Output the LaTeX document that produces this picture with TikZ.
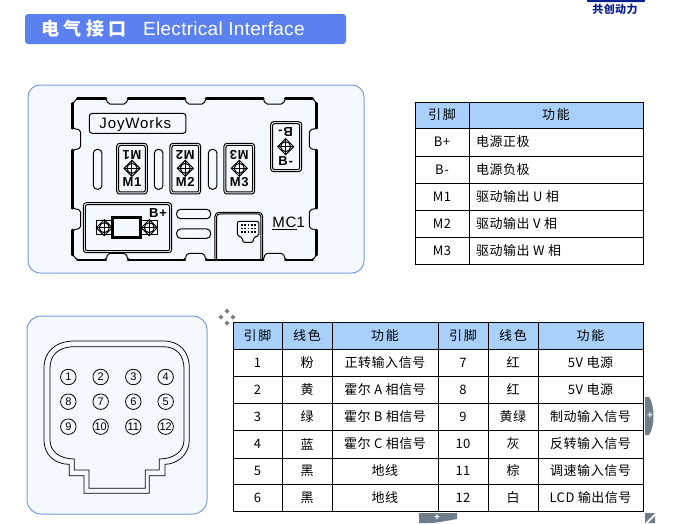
\documentclass[tikz,border=0pt]{standalone}
\usepackage{fontspec}
\setmainfont{Liberation Sans}
\newfontfamily\cjk[LetterSpace=4]{Noto Sans CJK SC}
\newfontfamily\boardfont[LetterSpace=6]{Liberation Sans}
\newfontfamily\headfont[LetterSpace=1.5]{Liberation Sans}
\definecolor{panelline}{HTML}{7C9CDC}
\definecolor{panelfill}{HTML}{F4F9FF}
\definecolor{headblue}{HTML}{5B80F0}
\definecolor{tablehead}{HTML}{A9D0FB}
\definecolor{handlegray}{HTML}{6F7C8A}
\definecolor{logoblue}{HTML}{0A1E8C}
\newcommand{\dblbox}[4]{
    \draw[thinline,rounded corners=3pt] (#1,#2) rectangle (#3,#4);
    \draw[thinline,rounded corners=2pt] (#1+6,#2+6) rectangle (#3-6,#4-6);
}
\newcommand{\target}[2]{
    \draw[thinline] (#1,#2) circle[radius=5pt];
    \draw[thinline] (#1-24,#2) -- (#1,#2-24) -- (#1+24,#2) -- (#1,#2+24) -- cycle;
    \draw[thinline] (#1-24,#2) -- (#1+24,#2) (#1,#2-24) -- (#1,#2+24);
}
\newcommand{\motorpost}[2]{
    \dblbox{#1-46}{190}{#1+46}{342}
    \target{#1}{265}
    \node[postlabel,rotate=180] (#2up) at (#1,225) {#2};
    \node[postlabel] (#2down) at (#1,307) {#2};
}
\begin{document}
\begin{tikzpicture}[
        x=1pt,y=-1pt,
        panel/.style={
            draw=panelline,
            fill=panelfill,
            line width=1pt,
        },
        thinline/.style={
            draw=black,
            line width=1pt,
        },
        hairline/.style={
            draw=black,
            line width=.75pt,
        },
        thickline/.style={
            draw=black,
            line width=2.6pt,
            line cap=round,
        },
        gridline/.style={
            draw=black,
            line width=1pt,
            line cap=rect,
        },
        cell/.style={
            inner sep=0pt,
            font=\cjk\fontsize{13}{15}\selectfont,
        },
        postlabel/.style={
            inner sep=0pt,
            font=\boardfont\bfseries\fontsize{13}{15}\selectfont,
        },
        pincircle/.style={
            circle,
            draw=black,
            line width=.8pt,
            minimum size=15.5pt,
            inner sep=0pt,
            font=\fontsize{11}{11}\selectfont,
        },
        plusmark/.style={
            inner sep=0pt,
            text=white,
            font=\bfseries\fontsize{10}{10}\selectfont,
        },
    ]
    \useasboundingbox (0,0) rectangle (681,523);

    \fill[logoblue,rounded corners=1pt] (587,-2) rectangle (645,2);
    \node[inner sep=0pt,text=logoblue,font=\cjk\bfseries\fontsize{11}{12}\selectfont] (logo) at (615,9.5) {共创动力};

    \fill[headblue,rounded corners=3pt] (25,14) rectangle (346,44);
    \node[anchor=west,inner sep=0pt,text=white,font=\cjk\bfseries\fontsize{18}{20}\selectfont] (headcn) at (41,29) {电\hspace{4.5pt}气\hspace{4.5pt}接\hspace{4.5pt}口};
    \node[anchor=west,inner sep=0pt,text=white,font=\headfont\fontsize{19}{21}\selectfont] (heading) at (143,29) {Electrical Interface};

    \draw[panel,rounded corners=12pt] (28,85) rectangle (364,273);
    \begin{scope}[shift={(20,80)},x=.3333pt,y=-.3333pt]
        \draw[thinline,rounded corners=2pt] (158,70) -- (172,55)
            -- (258,55) -- (264,72) -- (318,72) -- (324,55)
            -- (495,55) -- (501,72) -- (552,72) -- (558,55)
            -- (730,55) -- (736,72) -- (790,72) -- (796,55)
            -- (878,55) -- (890,70)
            -- (890,145) -- (868,150) -- (868,205) -- (890,210)
            -- (890,385) -- (868,390) -- (868,445) -- (890,450)
            -- (890,525) -- (878,540)
            -- (796,540) -- (790,520) -- (736,520) -- (730,540)
            -- (558,540) -- (552,520) -- (501,520) -- (495,540)
            -- (324,540) -- (318,520) -- (264,520) -- (258,540)
            -- (172,540) -- (158,525)
            -- (158,450) -- (182,445) -- (182,390) -- (158,385)
            -- (158,210) -- (182,205) -- (182,150) -- (158,145)
            -- cycle;
        \foreach \a/\b in {172/258,324/495,558/730,796/878}{
            \draw[thickline] (\a,55) -- (\b,55);
            \draw[thickline] (\a,540) -- (\b,540);
        }
        \foreach \a/\b in {70/145,210/385,450/525}{
            \draw[thickline] (158,\a) -- (158,\b);
            \draw[thickline] (890,\a) -- (890,\b);
        }

        \draw[thinline,rounded corners=3pt] (208,100) rectangle (498,160);
        \node[inner sep=0pt,font=\boardfont\fontsize{15}{17}\selectfont] (brand) at (346,133) {JoyWorks};

        \foreach \a in {220,403,565}{
            \draw[thinline,rounded corners=4pt] (\a,208) rectangle (\a+26,328);
        }
        \foreach \a in {388,447}{
            \draw[thinline,rounded corners=4pt] (470,\a) rectangle (572,\a+28);
        }

        \motorpost{336}{M1}
        \motorpost{496}{M2}
        \motorpost{658}{M3}

        \dblbox{752}{125}{845}{275}
        \target{797}{200}
        \node[postlabel,rotate=180] (bminusup) at (797,155) {B-};
        \node[postlabel] (bminusdown) at (797,242) {B-};

        \dblbox{190}{368}{455}{518}
        \node[postlabel] (bplus) at (414,398) {B+};
        \draw[thinline] (275,422) -- (230,422) -- (230,465) -- (275,465);
        \draw[thinline] (365,422) -- (412,422) -- (412,465) -- (365,465);
        \draw[thickline,fill=panelfill] (278,412) rectangle (362,473);
        \target{253}{443}
        \target{388}{443}

        \draw[thinline,rounded corners=4pt] (585,540) -- (585,397) -- (728,397) -- (728,540);
        \draw[thinline,rounded corners=3pt] (590,540) -- (590,402) -- (723,402) -- (723,540);
        \draw[thinline,rounded corners=2pt] (652,424) -- (717,424) -- (717,468) -- (700,472)
            -- (700,487) -- (668,487) -- (668,472) -- (652,468) -- cycle;
        \foreach \a in {666,676,686,696,706}{
            \foreach \b in {436,446,456}{
                \fill (\a-2.5,\b-2.5) rectangle (\a+2.5,\b+2.5);
            }
        }
        \node[inner sep=0pt,font=\boardfont\fontsize{15}{17}\selectfont] (board) at (806,429) {\underline{MC}1};
        \draw[thickline] (585,540) -- (728,540);
    \end{scope}

    \fill[tablehead] (415,102) rectangle (643,128);
    \draw[gridline] (415,102) rectangle (643,264);
    \draw[gridline] (469,102) -- (469,264);
    \foreach \y in {128,156,183,210,237}{
        \draw[gridline] (415,\y) -- (643,\y);
    }
    \node[cell] (pinhead) at (442,115) {引\hspace{2pt}脚};
    \node[cell] (funchead) at (556,115) {功\hspace{2pt}能};
    \foreach \y/\pin/\func in {142/B+/电源正极,169.5/B-/电源负极,196.5/M1/驱动输出 U 相,223.5/M2/驱动输出 V 相,250.5/M3/驱动输出 W 相}{
        \node[cell] (pin\pin) at (442,\y) {\pin};
        \node[cell,anchor=west] (func\pin) at (476,\y) {\func};
    }

    \draw[panel,rounded corners=14pt] (27,316) rectangle (207,514);
    \begin{scope}[shift={(20,305)},x=.3333pt,y=-.3333pt]
        \draw[hairline] (165,108) -- (430,108) .. controls (480,108) and (508,140) .. (508,190)
            -- (508,405) .. controls (508,450) and (470,478) .. (435,478)
            -- (435,512) -- (388,512) -- (388,565) -- (192,565) -- (192,512) -- (148,512) -- (148,478)
            .. controls (105,478) and (72,450) .. (72,405)
            -- (72,190) .. controls (72,140) and (105,108) .. (165,108) -- cycle;
        \draw[hairline] (165,125) -- (430,125) .. controls (468,125) and (492,150) .. (492,190)
            -- (492,405) .. controls (492,440) and (460,462) .. (418,462)
            -- (418,495) -- (376,495) -- (376,550) -- (207,550) -- (207,495) -- (163,495) -- (163,462)
            .. controls (120,462) and (90,440) .. (90,405)
            -- (90,190) .. controls (90,150) and (115,125) .. (165,125) -- cycle;
        \foreach \n/\a/\b in {1/145/216,2/242/216,3/340/216,4/437/216,8/145/290,7/242/290,6/340/290,5/437/290,9/145/365,10/242/365,11/340/365,12/437/365}{
            \node[pincircle] (pin\n) at (\a,\b) {\n};
        }
    \end{scope}

    \fill[tablehead] (233,322) rectangle (643,349);
    \draw[gridline] (233,322) rectangle (643,511);
    \foreach \x in {282,332,438,488,538}{
        \draw[gridline] (\x,322) -- (\x,511);
    }
    \foreach \y in {349,376,403,430,458,484}{
        \draw[gridline] (233,\y) -- (643,\y);
    }
    \foreach \x/\k in {257.5/a,463/b}{
        \node[cell] (headpin\k) at (\x,335.5) {引\hspace{2pt}脚};
    }
    \foreach \x/\k in {307/a,513/b}{
        \node[cell] (headwire\k) at (\x,335.5) {线\hspace{2pt}色};
    }
    \foreach \x/\k in {385/a,590.5/b}{
        \node[cell] (headfunc\k) at (\x,335.5) {功\hspace{2pt}能};
    }
    \foreach \y/\pa/\wa/\fa/\pb/\wb/\fb in {
        362.5/1/粉/正转输入信号/7/红/5V 电源,
        389.5/2/黄/霍尔 A 相信号/8/红/5V 电源,
        416.5/3/绿/霍尔 B 相信号/9/黄绿/制动输入信号,
        444/4/蓝/霍尔 C 相信号/10/灰/反转输入信号,
        471/5/黑/地线/11/棕/调速输入信号,
        497.5/6/黑/地线/12/白/LCD 输出信号%
    }{
        \node[cell] (rowpin\pa) at (257.5,\y) {\pa};
        \node[cell] (rowwire\pa) at (307,\y) {\wa};
        \node[cell] (rowfunc\pa) at (385,\y) {\fa};
        \node[cell] (rowpin\pb) at (463,\y) {\pb};
        \node[cell] (rowwire\pb) at (513,\y) {\wb};
        \node[cell] (rowfunc\pb) at (590.5,\y) {\fb};
    }

    \foreach \a in {0,90,180,270}{
        \fill[gray,shift={(227,317)},rotate=\a] (6,-2.5) -- (8.5,0) -- (6,2.5) -- (3.5,0) -- cycle;
    }
    \fill[handlegray] (645,397) -- (649,397) .. controls (655,405) and (655,427) .. (649,435) -- (645,435) -- cycle;
    \node[plusmark] (plusright) at (650,416) {+};
    \fill[handlegray] (419,513) -- (457,513) -- (457,519) .. controls (445,521) and (437,523) .. (430,523) -- (419,523) -- cycle;
    \node[plusmark] (plusbottom) at (437,517.5) {+};
    \fill[handlegray] (645,513) -- (655,513) -- (645,523) -- cycle;
    \fill[handlegray] (655,516) -- (655,523) -- (648,523) -- cycle;
\end{tikzpicture}
\end{document}
